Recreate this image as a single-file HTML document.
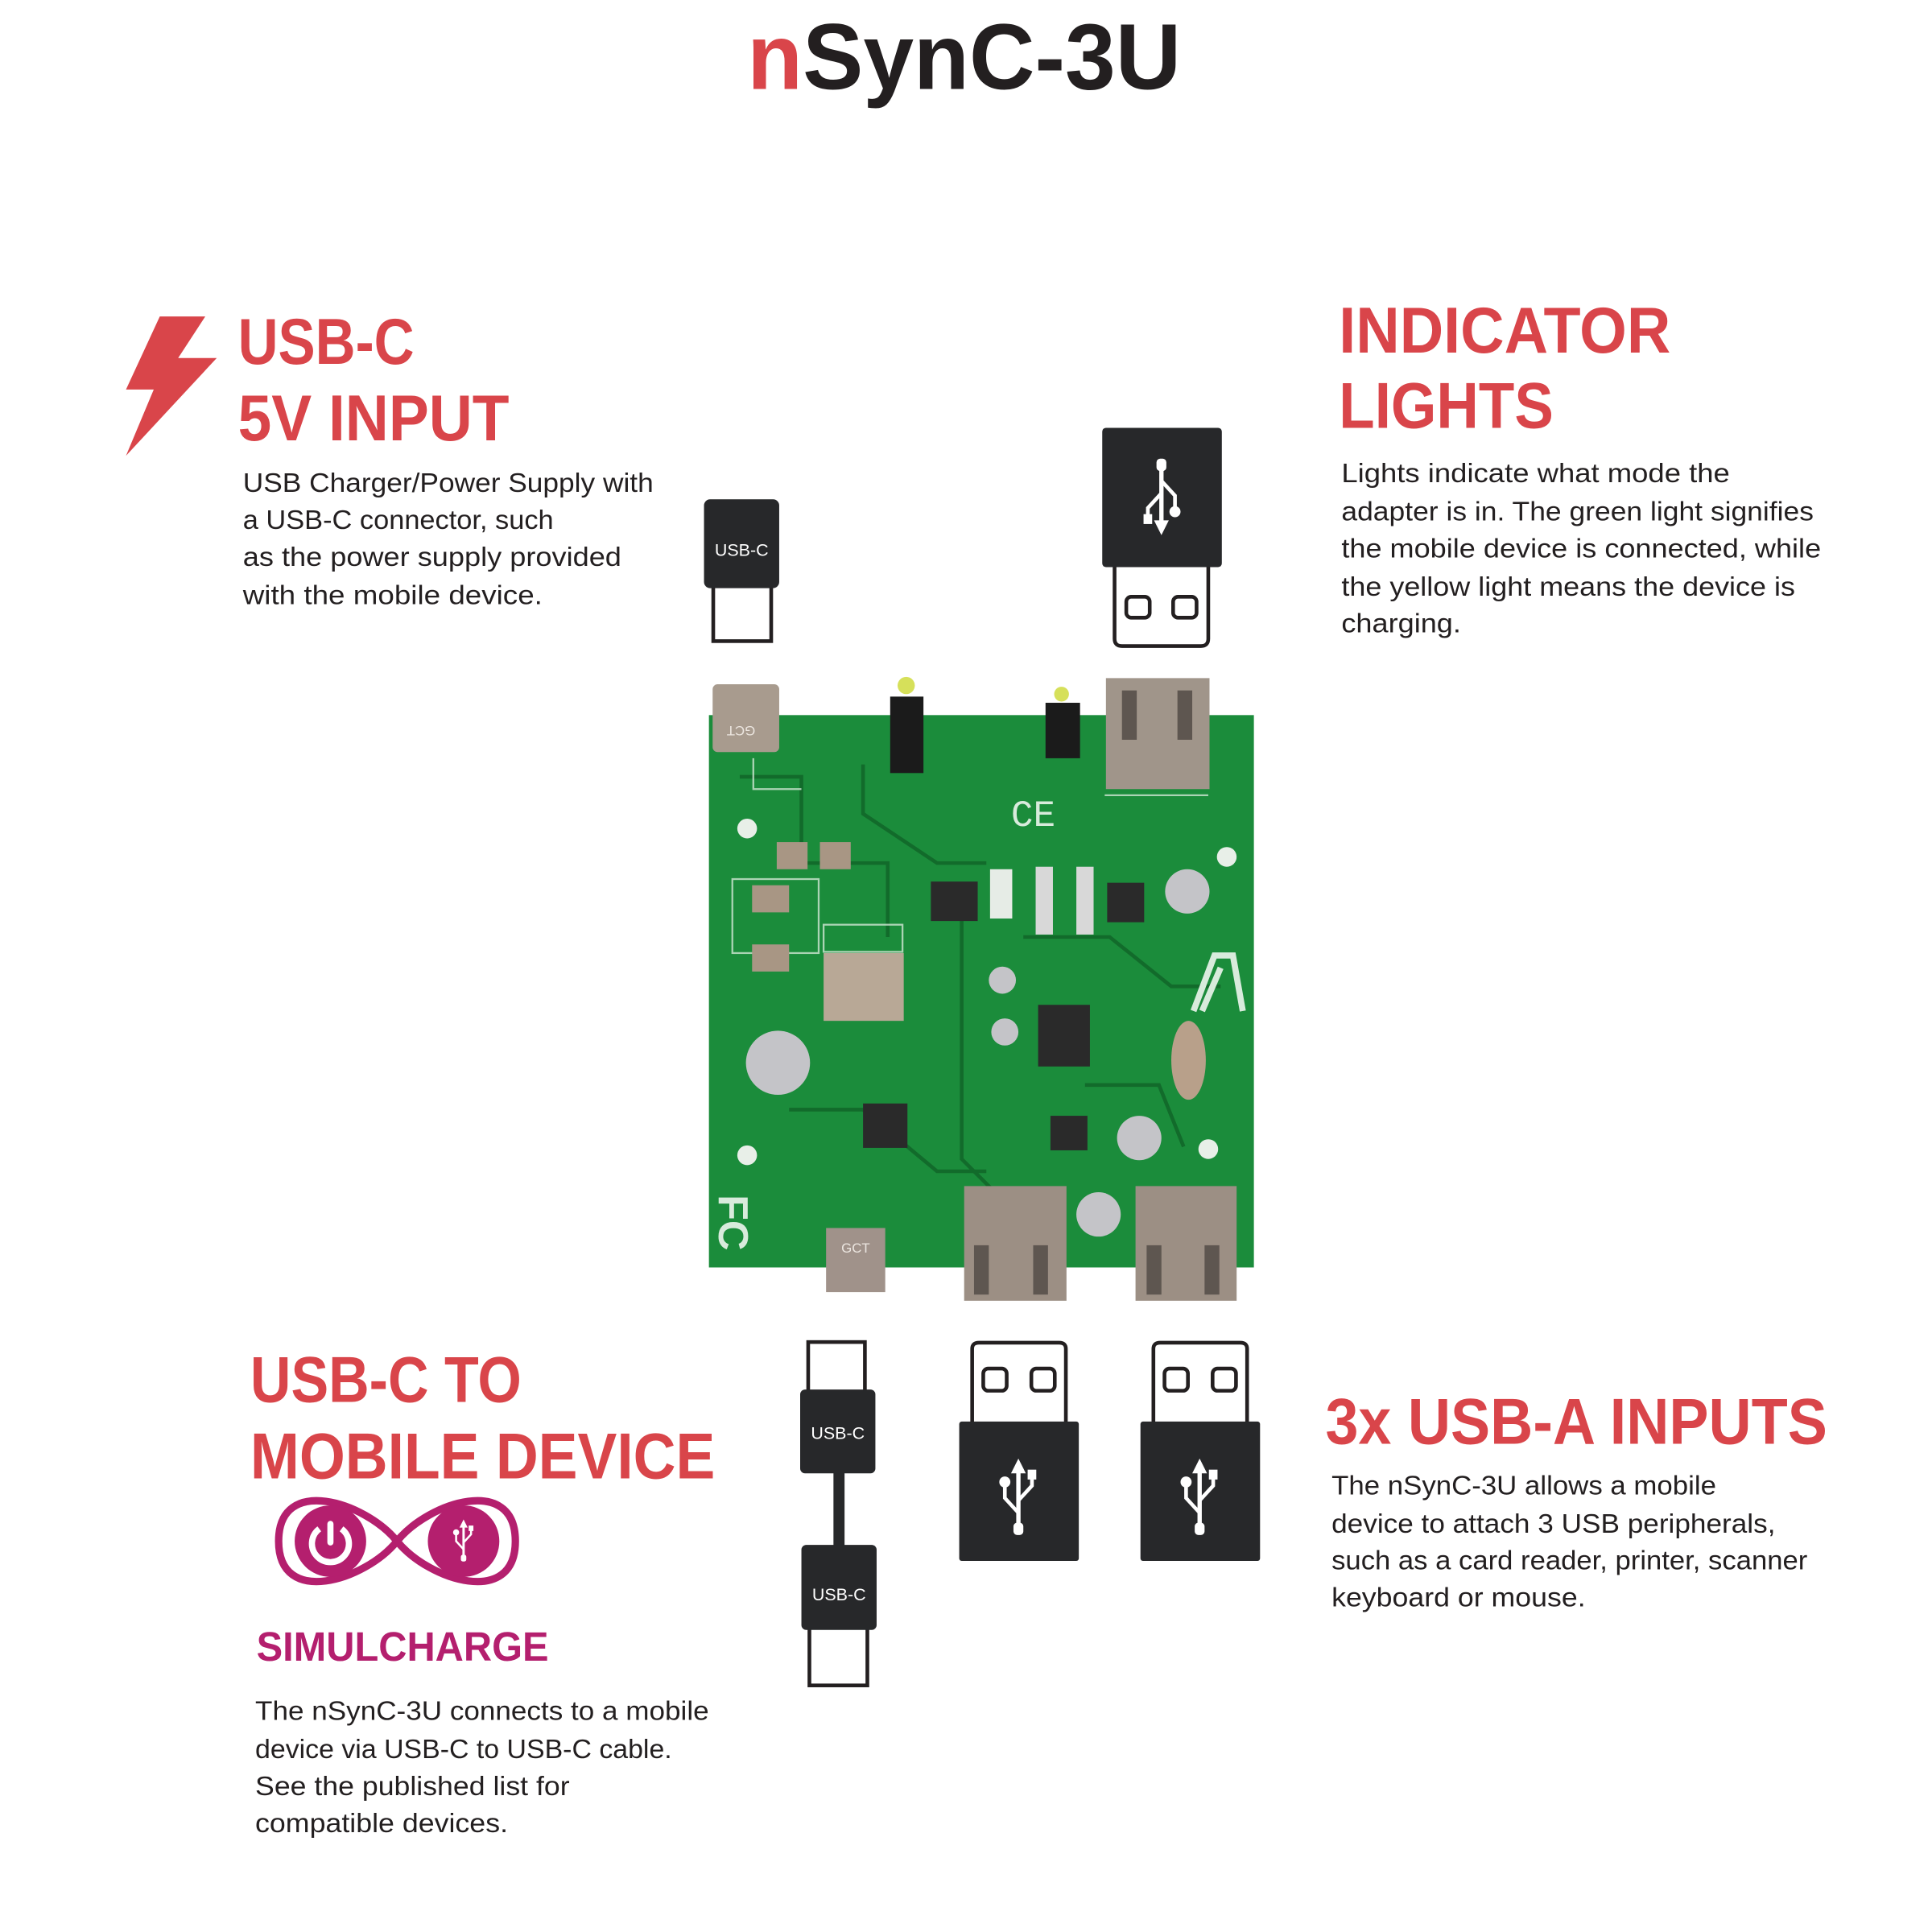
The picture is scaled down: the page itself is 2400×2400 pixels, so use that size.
<!DOCTYPE html>
<html><head><meta charset="utf-8"><style>html,body{margin:0;padding:0;background:#fff}svg{display:block}</style></head>
<body>
<svg xmlns="http://www.w3.org/2000/svg" width="2400" height="2400" viewBox="0 0 1567 1567">
<defs>
<g id="usbup" fill="#fff" stroke="#fff">
  <path d="M0,-22 L0,26" stroke-width="3.5" fill="none"/>
  <path d="M0,-32 L-6,-20 L6,-20 Z" stroke="none"/>
  <rect x="-4" y="20" width="8" height="10" rx="3" stroke="none"/>
  <path d="M0,12 L-11,0 L-11,-12" stroke-width="3" fill="none"/>
  <circle cx="-11" cy="-13" r="4.5" stroke="none"/>
  <path d="M0,2 L11,-10 L11,-18" stroke-width="3" fill="none"/>
  <rect x="7.5" y="-23" width="7" height="8" stroke="none"/>
</g>
</defs>
<rect width="1567" height="1567" fill="#fff"/>

<text x="782" y="72" text-anchor="middle" font-family="Liberation Sans, sans-serif" font-weight="bold" font-size="76" textLength="352" lengthAdjust="spacingAndGlyphs"><tspan fill="#d9454a">n</tspan><tspan fill="#231f20">SynC-3U</tspan></text>

<polygon points="129.6,256.7 166.5,256.7 144.5,290.4 175.8,290.4 102.2,369.6 124.7,315.9 102.2,315.9" fill="#d9454a"/>

<g font-family="Liberation Sans, sans-serif" font-weight="bold" font-size="53" fill="#d9454a">
<text x="193" y="295" textLength="143" lengthAdjust="spacingAndGlyphs">USB-C</text>
<text x="193" y="357" textLength="220" lengthAdjust="spacingAndGlyphs">5V INPUT</text>
<text x="1086" y="286" textLength="269" lengthAdjust="spacingAndGlyphs">INDICATOR</text>
<text x="1086" y="347" textLength="174" lengthAdjust="spacingAndGlyphs">LIGHTS</text>
<text x="203" y="1137" textLength="220" lengthAdjust="spacingAndGlyphs">USB-C TO</text>
<text x="203" y="1199" textLength="377" lengthAdjust="spacingAndGlyphs">MOBILE DEVICE</text>
<text x="1075" y="1171" textLength="407" lengthAdjust="spacingAndGlyphs">3x USB-A INPUTS</text>
</g>

<g font-family="Liberation Sans, sans-serif" font-size="22" fill="#231f20">
<text x="197" y="399" textLength="333" lengthAdjust="spacingAndGlyphs">USB Charger/Power Supply with</text>
<text x="197" y="429" textLength="252" lengthAdjust="spacingAndGlyphs">a USB-C connector, such</text>
<text x="197" y="459" textLength="307" lengthAdjust="spacingAndGlyphs">as the power supply provided</text>
<text x="197" y="490" textLength="243" lengthAdjust="spacingAndGlyphs">with the mobile device.</text>

<text x="1088" y="391" textLength="315" lengthAdjust="spacingAndGlyphs">Lights indicate what mode the</text>
<text x="1088" y="422" textLength="383" lengthAdjust="spacingAndGlyphs">adapter is in. The green light signifies</text>
<text x="1088" y="452" textLength="389" lengthAdjust="spacingAndGlyphs">the mobile device is connected, while</text>
<text x="1088" y="483" textLength="368" lengthAdjust="spacingAndGlyphs">the yellow light means the device is</text>
<text x="1088" y="513" textLength="97" lengthAdjust="spacingAndGlyphs">charging.</text>

<text x="207" y="1395" textLength="368" lengthAdjust="spacingAndGlyphs">The nSynC-3U connects to a mobile</text>
<text x="207" y="1426" textLength="338" lengthAdjust="spacingAndGlyphs">device via USB-C to USB-C cable.</text>
<text x="207" y="1456" textLength="255" lengthAdjust="spacingAndGlyphs">See the published list for</text>
<text x="207" y="1486" textLength="205" lengthAdjust="spacingAndGlyphs">compatible devices.</text>

<text x="1080" y="1212" textLength="312" lengthAdjust="spacingAndGlyphs">The nSynC-3U allows a mobile</text>
<text x="1080" y="1243" textLength="360" lengthAdjust="spacingAndGlyphs">device to attach 3 USB peripherals,</text>
<text x="1080" y="1273" textLength="386" lengthAdjust="spacingAndGlyphs">such as a card reader, printer, scanner</text>
<text x="1080" y="1303" textLength="206" lengthAdjust="spacingAndGlyphs">keyboard or mouse.</text>
</g>

<path d="M322,1250 C296,1218 226,1196 226,1250 C226,1304 296,1282 322,1250 C348,1218 418,1196 418,1250 C418,1304 348,1282 322,1250 Z" fill="none" stroke="#b41f6e" stroke-width="6"/>
<circle cx="268" cy="1250" r="29" fill="#b41f6e"/>
<circle cx="376" cy="1250" r="29" fill="#b41f6e"/>
<path d="M259,1240 A15,15 0 1 0 277,1240" fill="none" stroke="#fff" stroke-width="5"/>
<line x1="268" y1="1236" x2="268" y2="1251" stroke="#fff" stroke-width="5" stroke-linecap="round"/>
<g transform="translate(376,1250) scale(0.55)"><use href="#usbup"/></g>
<text x="208" y="1347" font-family="Liberation Sans, sans-serif" font-weight="bold" font-size="33" fill="#b41f6e" textLength="237" lengthAdjust="spacingAndGlyphs">SIMULCHARGE</text>

<rect x="578.5" y="470" width="47" height="50" fill="#fff" stroke="#231f20" stroke-width="3"/>
<rect x="571" y="405" width="61" height="72" rx="5" fill="#27282a"/>
<text x="601.5" y="451" text-anchor="middle" font-family="Liberation Sans, sans-serif" font-size="14" fill="#fff">USB-C</text>

<path d="M904,455 L904,518 Q904,524 910,524 L974,524 Q980,524 980,518 L980,455" fill="#fff" stroke="#231f20" stroke-width="3"/>
<rect x="913.5" y="484" width="19" height="17" rx="4" fill="none" stroke="#231f20" stroke-width="3"/>
<rect x="951.5" y="484" width="19" height="17" rx="4" fill="none" stroke="#231f20" stroke-width="3"/>
<rect x="894" y="347" width="97" height="113" rx="3" fill="#27282a"/>
<g transform="translate(942,402) rotate(180)"><use href="#usbup"/></g>

<rect x="575" y="580" width="442" height="448" fill="#1b8c3b"/>
<g fill="none" stroke="#126b2b" stroke-width="3">
<path d="M600,630 L650,630 L650,700 L720,700 L720,760"/>
<path d="M700,620 L700,660 L760,700 L800,700"/>
<path d="M830,760 L900,760 L950,800 L990,800"/>
<path d="M640,900 L700,900 L760,950 L800,950"/>
<path d="M880,880 L940,880 L960,930"/>
<path d="M780,720 L780,940 L820,980"/>
</g>
<g fill="none" stroke="#cfe6d3" stroke-width="1.5" opacity="0.8">
<rect x="594" y="713" width="70" height="60"/>
<rect x="668" y="750" width="64" height="22"/>
<path d="M611,615 L611,640 L650,640"/>
<path d="M896,645 L980,645"/>
</g>
<circle cx="606" cy="672" r="8" fill="#e8efe8"/>
<circle cx="995" cy="695" r="8" fill="#e8efe8"/>
<circle cx="606" cy="937" r="8" fill="#e8efe8"/>
<circle cx="980" cy="932" r="8" fill="#e8efe8"/>
<rect x="668" y="773" width="65" height="55" fill="#b8a896"/>
<rect x="610" y="718" width="30" height="22" fill="#a89684"/>
<rect x="610" y="766" width="30" height="22" fill="#a89684"/>
<rect x="630" y="683" width="25" height="22" fill="#a89684"/>
<rect x="665" y="683" width="25" height="22" fill="#a89684"/>
<rect x="755" y="715" width="38" height="32" fill="#2a2a2a"/>
<rect x="842" y="815" width="42" height="50" fill="#2a2a2a"/>
<rect x="700" y="895" width="36" height="36" fill="#2a2a2a"/>
<rect x="898" y="716" width="30" height="32" fill="#2a2a2a"/>
<rect x="852" y="905" width="30" height="28" fill="#2a2a2a"/>
<rect x="873" y="703" width="14" height="55" fill="#d8d8d8"/>
<rect x="840" y="703" width="14" height="55" fill="#d8d8d8"/>
<rect x="803" y="705" width="18" height="40" fill="#e6ece6"/>
<ellipse cx="964" cy="860" rx="14" ry="32" fill="#b8a08a"/>
<circle cx="631" cy="862" r="26" fill="#c4c4c8"/>
<circle cx="963" cy="723" r="18" fill="#c4c4c8"/>
<circle cx="924" cy="923" r="18" fill="#c4c4c8"/>
<circle cx="891" cy="985" r="18" fill="#c4c4c8"/>
<circle cx="813" cy="795" r="11" fill="#c4c4c8"/>
<circle cx="815" cy="837" r="11" fill="#c4c4c8"/>
<text x="820" y="670" font-family="Liberation Mono, monospace" font-size="30" fill="#d8ebdc">CE</text>
<path d="M968,820 L985,775 L1000,775 L1008,820 M975,820 L990,785" fill="none" stroke="#d8ebdc" stroke-width="5"/>
<text x="587" y="1005" font-family="Liberation Sans, sans-serif" font-size="34" font-weight="bold" fill="#d8ebdc" transform="rotate(90 603 985)">FC</text>
<rect x="722" y="565" width="27" height="62" fill="#1b1b1b"/>
<circle cx="735" cy="556" r="7" fill="#d6e05a"/>
<rect x="848" y="570" width="28" height="45" fill="#1b1b1b"/>
<circle cx="861" cy="563" r="6" fill="#d6e05a"/>
<rect x="578" y="555" width="54" height="55" rx="4" fill="#a89b8e"/>
<text x="601" y="597" text-anchor="middle" font-family="Liberation Sans, sans-serif" font-size="11" fill="#ece6e0" transform="rotate(180 601 593)">GCT</text>
<rect x="897" y="550" width="84" height="90" fill="#a0958a"/>
<rect x="910" y="560" width="12" height="40" fill="#5e5650"/>
<rect x="955" y="560" width="12" height="40" fill="#5e5650"/>
<rect x="670" y="996" width="48" height="52" fill="#a0928a"/>
<text x="694" y="1016" text-anchor="middle" font-family="Liberation Sans, sans-serif" font-size="11" fill="#ece6e0">GCT</text>
<rect x="782" y="962" width="83" height="93" fill="#9c8f84"/>
<rect x="790" y="1010" width="12" height="40" fill="#5e5650"/>
<rect x="838" y="1010" width="12" height="40" fill="#5e5650"/>
<rect x="921" y="962" width="82" height="93" fill="#9c8f84"/>
<rect x="930" y="1010" width="12" height="40" fill="#5e5650"/>
<rect x="977" y="1010" width="12" height="40" fill="#5e5650"/>

<rect x="655.5" y="1088.5" width="46" height="45" fill="#fff" stroke="#231f20" stroke-width="3"/>
<rect x="656.5" y="1315" width="47" height="52" fill="#fff" stroke="#231f20" stroke-width="3"/>
<rect x="676" y="1190" width="9" height="68" fill="#27282a"/>
<rect x="649" y="1127" width="61" height="68" rx="4" fill="#27282a"/>
<rect x="650" y="1253" width="61" height="69" rx="4" fill="#27282a"/>
<text x="679.5" y="1167" text-anchor="middle" font-family="Liberation Sans, sans-serif" font-size="14" fill="#fff">USB-C</text>
<text x="680.5" y="1298" text-anchor="middle" font-family="Liberation Sans, sans-serif" font-size="14" fill="#fff">USB-C</text>

<path d="M788.5,1160 L788.5,1094 Q788.5,1089 794,1089 L859,1089 Q864.5,1089 864.5,1094 L864.5,1160" fill="#fff" stroke="#231f20" stroke-width="3"/>
<rect x="797.5" y="1110" width="19" height="18" rx="4" fill="none" stroke="#231f20" stroke-width="3"/>
<rect x="836.5" y="1110" width="19" height="18" rx="4" fill="none" stroke="#231f20" stroke-width="3"/>
<rect x="778" y="1153" width="97" height="113" rx="2" fill="#27282a"/>
<g transform="translate(826,1215)"><use href="#usbup"/></g>

<path d="M935.5,1160 L935.5,1094 Q935.5,1089 941,1089 L1006,1089 Q1011.5,1089 1011.5,1094 L1011.5,1160" fill="#fff" stroke="#231f20" stroke-width="3"/>
<rect x="944.5" y="1110" width="19" height="18" rx="4" fill="none" stroke="#231f20" stroke-width="3"/>
<rect x="983.5" y="1110" width="19" height="18" rx="4" fill="none" stroke="#231f20" stroke-width="3"/>
<rect x="925" y="1153" width="97" height="113" rx="2" fill="#27282a"/>
<g transform="translate(973,1215)"><use href="#usbup"/></g>
</svg>
</body></html>
